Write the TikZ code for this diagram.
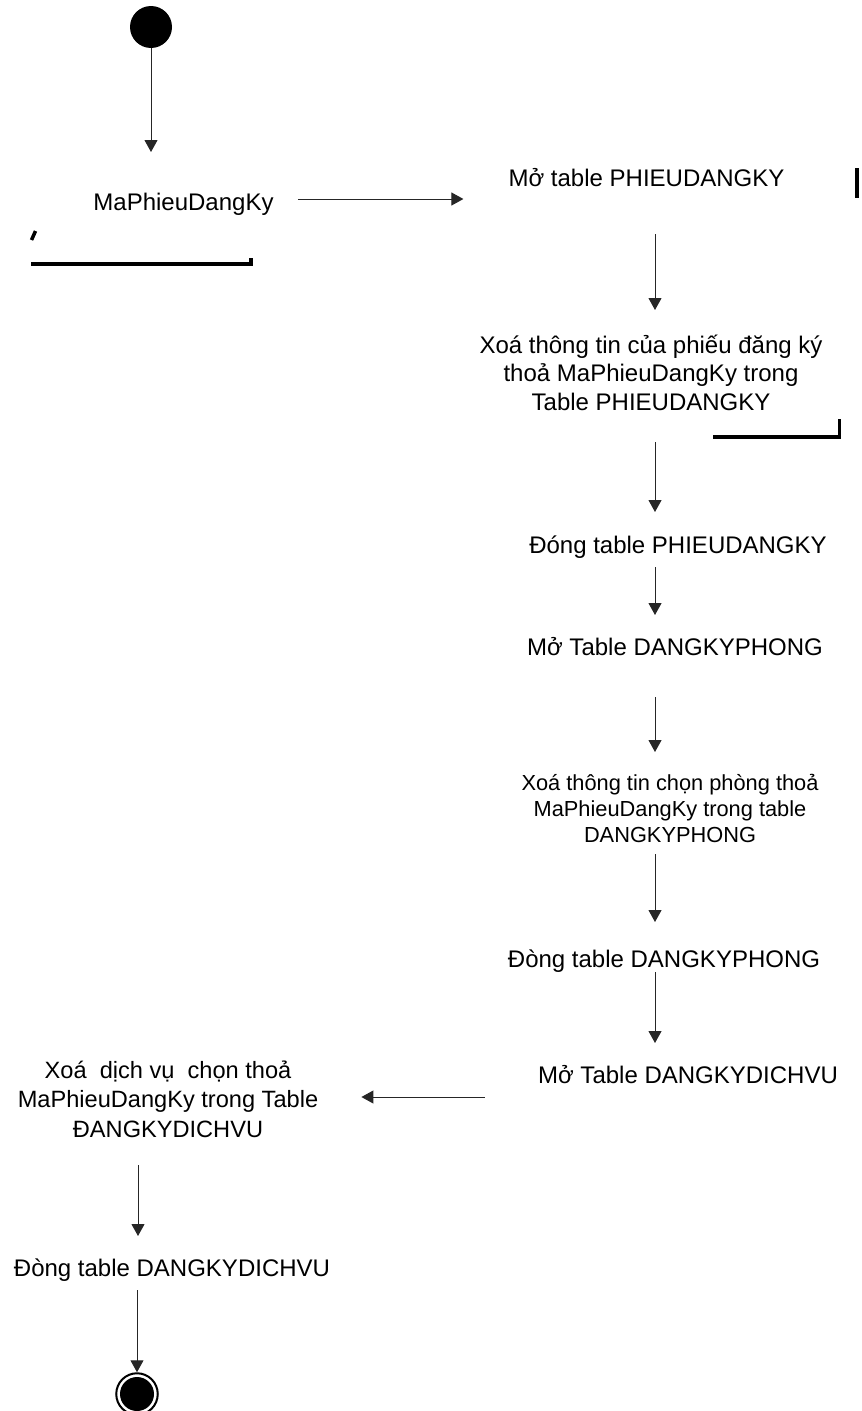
\documentclass[tikz,border=0pt]{standalone}
\usepackage{fontspec}
\setmainfont{Liberation Sans}
\usetikzlibrary{arrows.meta,calc}
\begin{document}
\begin{tikzpicture}[x=1pt,y=-1pt,
  lbl/.style={inner sep=0pt, anchor=base, align=center,
    font=\fontsize{24}{28.5}\selectfont},
  lblsmall/.style={lbl, font=\fontsize{21.8}{26}\selectfont},
  lblwide/.style={lbl, font=\fontsize{23.6}{29.5}\selectfont},
  flow/.style={draw=black!85, line width=1pt,
    -{Triangle[length=12pt,width=13pt]}},
  edgemark/.style={draw=black, line width=3.5pt, line join=miter}
]
\useasboundingbox (0,0) rectangle (862,1411);

% initial and final states
\node[circle, fill=black, minimum size=42pt, inner sep=0pt] (start) at (151,27) {};
\node[circle, draw=black, line width=2pt, minimum size=41.5pt, inner sep=0pt] (end) at (137,1394) {};
\fill[black] (end.center) circle[radius=17];

% activities (multi-line ones are placed by the baseline of their last line)
\node[lbl] (n1) at (183.5,210) {MaPhieuDangKy};
\node[lbl] (n2) at (646.5,186) {Mở table PHIEUDANGKY};
\node[lbl] (n3) at (651,410) {Xoá thông tin của phiếu đăng ký\\thoả MaPhieuDangKy trong\\Table PHIEUDANGKY};
\node[lbl] (n4) at (678,553) {Đóng table PHIEUDANGKY};
\node[lbl] (n5) at (675,655) {Mở Table DANGKYPHONG};
\node[lblsmall] (n6) at (670,842) {Xoá thông tin chọn phòng thoả\\MaPhieuDangKy trong table\\DANGKYPHONG};
\node[lbl] (n7) at (664,967) {Đòng table DANGKYPHONG};
\node[lbl] (n8) at (688,1083) {Mở Table DANGKYDICHVU};
\node[lblwide] (n9) at (168,1137) {Xoá\ \ dịch vụ\ \ chọn thoả\\MaPhieuDangKy trong Table\\ĐANGKYDICHVU};
\node[lbl] (n10) at (172,1276) {Đòng table DANGKYDICHVU};

% columns of the vertical flows
\coordinate (colR) at (655,0);
\coordinate (colL) at (138,0);

% transitions
\draw[flow] (start) -- ($(n1.base -| start)+(0,-58)$);
\draw[flow] ($(n1.base east)+(24,-11)$) -- ($(n2.base west)+(-45,13)$);
\draw[flow] ($(n2.base -| colR)+(0,48)$) -- ($(n3.base -| colR)+(0,-100)$);
\draw[flow] ($(n3.base -| colR)+(0,32)$) -- ($(n4.base -| colR)+(0,-41)$);
\draw[flow] ($(n4.base -| colR)+(0,14)$) -- ($(n5.base -| colR)+(0,-40)$);
\draw[flow] ($(n5.base -| colR)+(0,42)$) -- ($(n6.base -| colR)+(0,-90)$);
\draw[flow] ($(n6.base -| colR)+(0,12)$) -- ($(n7.base -| colR)+(0,-45)$);
\draw[flow] ($(n7.base -| colR)+(0,5)$) -- ($(n8.base -| colR)+(0,-40)$);
\draw[flow] ($(n8.base west)+(-53,14)$) -- ($(n9.base east)+(43,-40)$);
\draw[flow] ($(n9.base -| colL)+(0,28)$) -- ($(n10.base -| colL)+(0,-40)$);
\draw[flow] ($(n10.base -| end)+(0,14)$) -- (end);

% leftover frame strokes
\draw[edgemark] (31.5,240) -- (35.5,231);
\draw[edgemark] (31,264) -- (251,264) -- (251,257.5);
\draw[edgemark] (857,168) -- (857,198);
\draw[edgemark] (713,437) -- (839.5,437) -- (839.5,419);
\end{tikzpicture}
\end{document}
